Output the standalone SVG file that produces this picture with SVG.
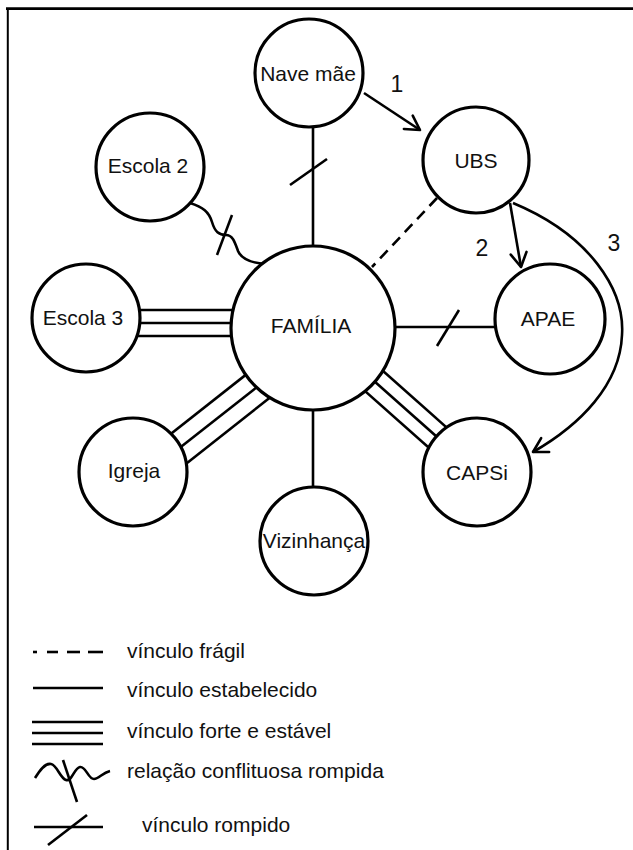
<svg xmlns="http://www.w3.org/2000/svg" width="633" height="850" viewBox="0 0 633 850">
<style>
.ln{stroke:#000;stroke-width:2.6;fill:none}
.nd{fill:#fff;stroke:#000;stroke-width:3.2}
.lb{font-family:"Liberation Sans",Arial,sans-serif;font-size:21px;fill:#111;text-anchor:middle}
.num{font-family:"Liberation Sans",Arial,sans-serif;font-size:23px;fill:#111;text-anchor:middle}
.lg{font-family:"Liberation Sans",Arial,sans-serif;font-size:21px;fill:#111}
</style>
<defs>
<marker id="arr" viewBox="0 0 16 16" refX="14" refY="8" markerWidth="16" markerHeight="16" markerUnits="userSpaceOnUse" orient="auto" overflow="visible">
<path d="M0,0 L14,8 L0,16" fill="none" stroke="#000" stroke-width="2.6" stroke-linecap="round" stroke-linejoin="round"/>
</marker>
</defs>
<rect width="633" height="850" fill="#fff"/>
<g id="frame">
<line x1="6" y1="8.7" x2="633" y2="8.7" stroke="#000" stroke-width="2.7"/>
<line x1="7.8" y1="8" x2="7.8" y2="850" stroke="#000" stroke-width="2"/>
</g>
<g id="connectors">
<!-- Nave mae - Familia (rompido) -->
<line class="ln" x1="313" y1="120" x2="313" y2="260"/>
<line class="ln" x1="290" y1="185" x2="327" y2="159"/>
<!-- Escola 2 - Familia (conflituosa rompida) -->
<path class="ln" d="M190,203 C203,207 209,212 212,222 C215,232 219,235 226,235 C233,235 235,243 238,251 C241,258 250,263 266,264"/>
<line class="ln" x1="217" y1="255" x2="232" y2="215"/>
<!-- Escola 3 - Familia (forte) -->
<line class="ln" x1="120" y1="310" x2="250" y2="310"/>
<line class="ln" x1="120" y1="323" x2="250" y2="323"/>
<line class="ln" x1="120" y1="336" x2="250" y2="336"/>
<!-- Igreja - Familia (forte) -->
<line class="ln" x1="289.8" y1="340.1" x2="148.5" y2="451.5"/>
<line class="ln" x1="299.8" y1="353.3" x2="158.5" y2="464.6"/>
<line class="ln" x1="309.7" y1="366.3" x2="168.4" y2="477.7"/>
<!-- CAPSi - Familia (forte) -->
<line class="ln" x1="345.6" y1="337.7" x2="472.7" y2="450.6"/>
<line class="ln" x1="336.6" y1="347.8" x2="463.8" y2="460.7"/>
<line class="ln" x1="327.6" y1="357.9" x2="454.8" y2="470.8"/>
<!-- Vizinhanca - Familia -->
<line class="ln" x1="313" y1="400" x2="313" y2="500"/>
<!-- APAE - Familia (rompido) -->
<line class="ln" x1="380" y1="327" x2="510" y2="327"/>
<line class="ln" x1="437" y1="346" x2="459" y2="310"/>
<!-- UBS - Familia (fragil) -->
<line class="ln" x1="437" y1="198" x2="372" y2="267" stroke-dasharray="11 7"/>
<!-- arrows -->
<line class="ln" x1="364" y1="93" x2="420" y2="130" marker-end="url(#arr)"/>
<line class="ln" x1="510" y1="203" x2="521" y2="267" marker-end="url(#arr)"/>
<path class="ln" d="M513,203 C590,235 625,290 622,335 C620,385 580,425 533,452" marker-end="url(#arr)"/>
</g>
<g id="familia"><circle class="nd" cx="313" cy="328" r="82"/><text class="lb" x="311" y="333">FAMÍLIA</text></g>
<g id="nave-mae"><circle class="nd" cx="309" cy="73" r="54"/><text class="lb" x="308" y="81">Nave mãe</text></g>
<g id="ubs"><circle class="nd" cx="476" cy="160" r="53"/><text class="lb" x="476" y="168">UBS</text></g>
<g id="escola2"><circle class="nd" cx="150" cy="167" r="54"/><text class="lb" x="148" y="173">Escola 2</text></g>
<g id="escola3"><circle class="nd" cx="86" cy="318" r="54"/><text class="lb" x="83" y="325">Escola 3</text></g>
<g id="apae"><circle class="nd" cx="550" cy="319" r="55"/><text class="lb" x="548" y="326">APAE</text></g>
<g id="igreja"><circle class="nd" cx="133" cy="472" r="54"/><text class="lb" x="134" y="478">Igreja</text></g>
<g id="capsi"><circle class="nd" cx="477" cy="472" r="54"/><text class="lb" x="477" y="480">CAPSi</text></g>
<g id="vizinhanca"><circle class="nd" cx="314" cy="541" r="54"/><text class="lb" x="314" y="548">Vizinhança</text></g>
<g id="numbers">
<text class="num" x="397" y="92">1</text>
<text class="num" x="482" y="256">2</text>
<text class="num" x="614" y="251">3</text>
</g>
<g id="legend">
<line class="ln" x1="33" y1="652" x2="37" y2="652"/>
<line class="ln" x1="47" y1="652" x2="58" y2="652"/>
<line class="ln" x1="67" y1="652" x2="80" y2="652"/>
<line class="ln" x1="88" y1="652" x2="103" y2="652"/>
<text class="lg" x="127" y="658">vínculo frágil</text>
<line class="ln" x1="33" y1="688" x2="103" y2="688"/>
<text class="lg" x="127" y="697">vínculo estabelecido</text>
<line class="ln" x1="32" y1="722" x2="103" y2="722"/>
<line class="ln" x1="32" y1="733" x2="103" y2="733"/>
<line class="ln" x1="32" y1="744" x2="103" y2="744"/>
<text class="lg" x="127" y="738">vínculo forte e estável</text>
<path class="ln" d="M35,778 C40,770 45,763 51,764 C57,765 60,778 66,780 C72,782 74,768 80,767 C86,766 88,779 94,779 C99,779 102,773 110,771"/>
<line class="ln" x1="63" y1="760" x2="77" y2="802"/>
<text class="lg" x="127" y="778">relação conflituosa rompida</text>
<line class="ln" x1="34" y1="827" x2="103" y2="827"/>
<line class="ln" x1="48" y1="845" x2="87" y2="815"/>
<text class="lg" x="142" y="832">vínculo rompido</text>
</g>
</svg>
